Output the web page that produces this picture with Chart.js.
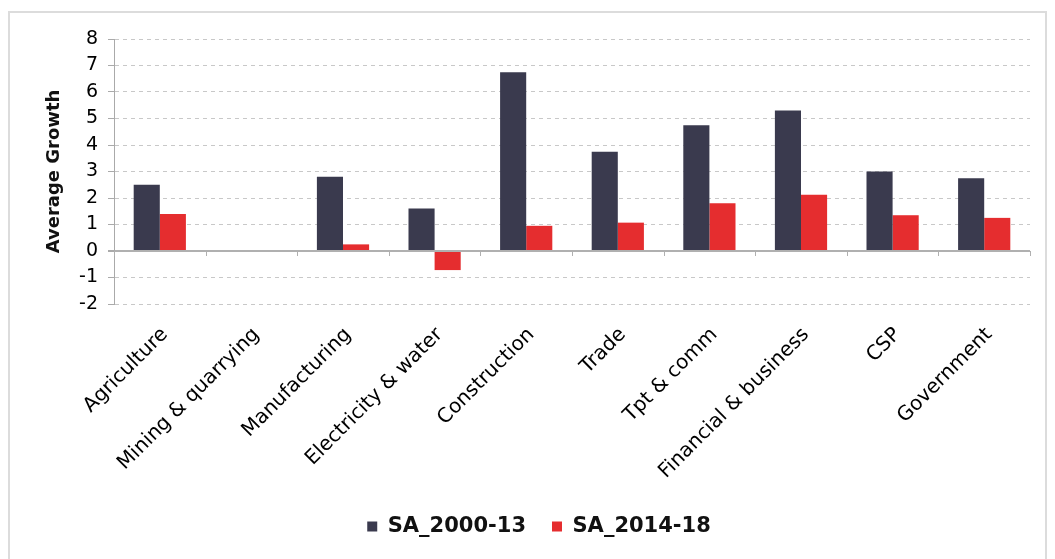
<!DOCTYPE html>
<html>
<head>
<meta charset="utf-8">
<script src="https://cdn.jsdelivr.net/npm/chart.js@4.4.0/dist/chart.umd.min.js"></script>
<style>
  html, body { margin: 0; padding: 0; background: #fff; }
  #wrap { position: relative; width: 1055px; height: 559px; overflow: hidden; }
  #frame { position: absolute; left: 8px; top: 11px; width: 1039px; height: 600px; border: 2px solid #dcdcdc; box-sizing: border-box; pointer-events: none; }
  canvas { position: absolute; left: 0; top: 0; }
</style>
</head>
<body>
<div id="wrap">
  <canvas id="c" width="1055" height="559"></canvas>
  <div id="frame"></div>
</div>
<script>
const categories = ["Agriculture", "Mining & quarrying", "Manufacturing", "Electricity & water", "Construction", "Trade", "Tpt & comm", "Financial & business", "CSP", "Government"];
const seriesNames = ["SA_2000-13", "SA_2014-18"];
const sa2000_13 = [2.5, 0, 2.8, 1.6, 6.75, 3.75, 4.75, 5.3, 3.0, 2.75];
const sa2014_18 = [1.4, 0, 0.25, -0.72, 0.95, 1.07, 1.8, 2.12, 1.35, 1.25];
const yTicks = [8, 7, 6, 5, 4, 3, 2, 1, 0, -1, -2];
const yTitle = "Average Growth";

const FONT = "'DejaVu Sans', Verdana, sans-serif";

const extras = {
  id: 'extras',
  afterLayout(chart) {
    const lg = chart.legend;
    if (lg) { lg.left += 18; lg.right += 18; }
  },
  afterDatasetsDraw(chart) {
    const x = chart.scales.x, y = chart.scales.y;
    const ctx = chart.ctx;
    const y0 = y.getPixelForValue(0);
    ctx.save();
    ctx.strokeStyle = '#b0b0b0';
    ctx.lineWidth = 1;
    const n = categories.length;
    const step = (x.right - x.left) / n;
    ctx.beginPath();
    for (let i = 0; i <= n; i++) {
      const px = Math.round(x.left + i * step) + 0.5;
      ctx.moveTo(px, y0);
      ctx.lineTo(px, y0 + 5);
    }
    ctx.stroke();
    ctx.restore();
  }
};

new Chart(document.getElementById('c'), {
  type: 'bar',
  data: {
    labels: categories,
    datasets: [
      { label: seriesNames[0], data: sa2000_13, backgroundColor: '#3a3a4e', borderWidth: 0 },
      { label: seriesNames[1], data: sa2014_18, backgroundColor: '#e52d2f', borderWidth: 0 }
    ]
  },
  options: {
    responsive: false,
    animation: false,
    devicePixelRatio: 1,
    layout: { padding: { left: 12, right: 25, top: 39, bottom: 12 } },
    datasets: { bar: { categoryPercentage: 0.57, barPercentage: 1.0 } },
    plugins: {
      legend: {
        position: 'bottom',
        labels: {
          boxWidth: 10, boxHeight: 10, padding: 26,
          color: '#111',
          font: { family: FONT, size: 21, weight: 'bold' }
        }
      },
      tooltip: { enabled: false }
    },
    scales: {
      x: {
        grid: { display: false, drawTicks: false },
        border: { display: false },
        ticks: {
          minRotation: 45, maxRotation: 45, autoSkip: false,
          color: '#000', padding: 19, labelOffset: 5,
          font: { family: FONT, size: 20 }
        },
        afterFit: (s) => { s.height = 186; }
      },
      y: {
        min: -2, max: 8,
        afterBuildTicks: (s) => { s.ticks = yTicks.map(v => ({ value: v })); },
        grid: {
          color: (ctx) => ctx.tick && ctx.tick.value === 0 ? '#b0b0b0' : '#c8c8c8',
          lineWidth: (ctx) => ctx.tick && ctx.tick.value === 0 ? 2 : 1,
          tickLength: 6,
          tickColor: '#aaa'
        },
        border: {
          display: true, color: '#aaa', width: 1,
          dash: (ctx) => (ctx.tick && ctx.tick.value === 0) ? [] : [4, 4]
        },
        ticks: {
          autoSkip: false,
          color: '#000', padding: 10,
          font: { family: FONT, size: 19 }
        },
        title: {
          display: true, text: yTitle, color: '#111',
          font: { family: FONT, size: 18, weight: 'bold' },
          padding: { top: 32, bottom: 0 }
        },
        afterFit: (s) => { s.width = 102; }
      }
    }
  },
  plugins: [extras]
});
</script>
</body>
</html>
